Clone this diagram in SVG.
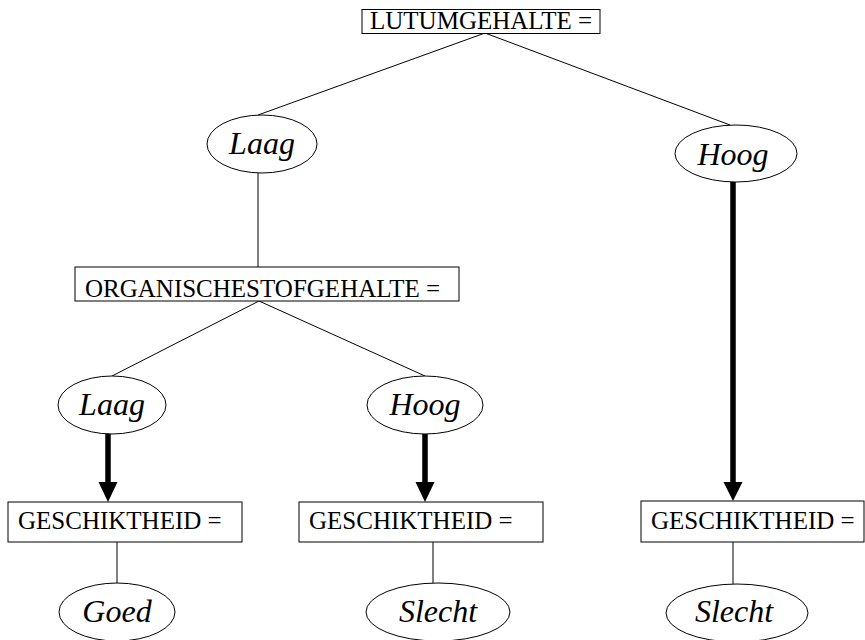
<svg xmlns="http://www.w3.org/2000/svg" width="865" height="640" viewBox="0 0 865 640" font-family="Liberation Serif, Times New Roman, serif">
<style>
.box{fill:#fff;stroke:#000;stroke-width:1}
.ell{fill:#fff;stroke:#000;stroke-width:1}
.t{font-size:25px;fill:#000}
.i{font-size:32px;font-style:italic;fill:#000;text-anchor:middle}
.thin{stroke:#000;stroke-width:1;fill:none}
.thick{stroke:#000;stroke-width:5.5;fill:none}
.head{fill:#000}
</style>
<rect width="865" height="640" fill="#fff"/>
<g id="connectors">
<line class="thin" x1="485" y1="33" x2="258" y2="115"/>
<line class="thin" x1="485" y1="33" x2="730" y2="125"/>
<line class="thin" x1="258" y1="173" x2="258" y2="267"/>
<line class="thin" x1="259" y1="301" x2="112" y2="376"/>
<line class="thin" x1="259" y1="301" x2="425" y2="376"/>
<line class="thick" x1="108" y1="433" x2="108" y2="483"/>
<polygon class="head" points="98.5,482 117.5,482 108,502"/>
<line class="thick" x1="425" y1="433" x2="425" y2="483"/>
<polygon class="head" points="415.5,482 434.5,482 425,502"/>
<line class="thick" x1="733" y1="182" x2="733" y2="483"/>
<polygon class="head" points="723.5,482 742.5,482 733,501"/>
<line class="thin" x1="117" y1="542" x2="117" y2="583"/>
<line class="thin" x1="433" y1="542" x2="433" y2="583"/>
<line class="thin" x1="733" y1="542" x2="733" y2="584"/>
</g>
<g id="n_lutum">
<rect class="box" x="362" y="9.5" width="238" height="24"/>
<text class="t" font-family="Liberation Serif, serif" x="370" y="29">LUTUMGEHALTE =</text>
</g>
<g id="n_laag1">
<ellipse class="ell" cx="262" cy="144" rx="55" ry="29"/>
<text class="i" font-family="Liberation Serif, serif" x="262" y="154">Laag</text>
</g>
<g id="n_hoog1">
<ellipse class="ell" cx="736" cy="153.5" rx="61" ry="28.5"/>
<text class="i" font-family="Liberation Serif, serif" x="733" y="165">Hoog</text>
</g>
<g id="n_org">
<rect class="box" x="75" y="267" width="384" height="34"/>
<text class="t" font-family="Liberation Serif, serif" x="85" y="297">ORGANISCHESTOFGEHALTE =</text>
</g>
<g id="n_laag2">
<ellipse class="ell" cx="112" cy="405" rx="54" ry="29"/>
<text class="i" font-family="Liberation Serif, serif" x="112" y="415">Laag</text>
</g>
<g id="n_hoog2">
<ellipse class="ell" cx="425" cy="405" rx="58" ry="29"/>
<text class="i" font-family="Liberation Serif, serif" x="425" y="415">Hoog</text>
</g>
<g id="n_gesch1">
<rect class="box" x="8" y="502" width="234" height="40"/>
<text class="t" font-family="Liberation Serif, serif" x="18" y="529">GESCHIKTHEID =</text>
</g>
<g id="n_gesch2">
<rect class="box" x="299" y="502" width="244" height="40"/>
<text class="t" font-family="Liberation Serif, serif" x="309" y="529">GESCHIKTHEID =</text>
</g>
<g id="n_gesch3">
<rect class="box" x="641" y="501" width="223" height="41"/>
<text class="t" font-family="Liberation Serif, serif" x="651" y="529">GESCHIKTHEID =</text>
</g>
<g id="n_goed">
<ellipse class="ell" cx="117" cy="612" rx="58" ry="29"/>
<text class="i" font-family="Liberation Serif, serif" x="117" y="622">Goed</text>
</g>
<g id="n_slecht1">
<ellipse class="ell" cx="438" cy="612" rx="72" ry="29"/>
<text class="i" font-family="Liberation Serif, serif" x="438" y="622">Slecht</text>
</g>
<g id="n_slecht2">
<ellipse class="ell" cx="737" cy="613" rx="71" ry="29"/>
<text class="i" font-family="Liberation Serif, serif" x="734" y="622">Slecht</text>
</g>
</svg>
